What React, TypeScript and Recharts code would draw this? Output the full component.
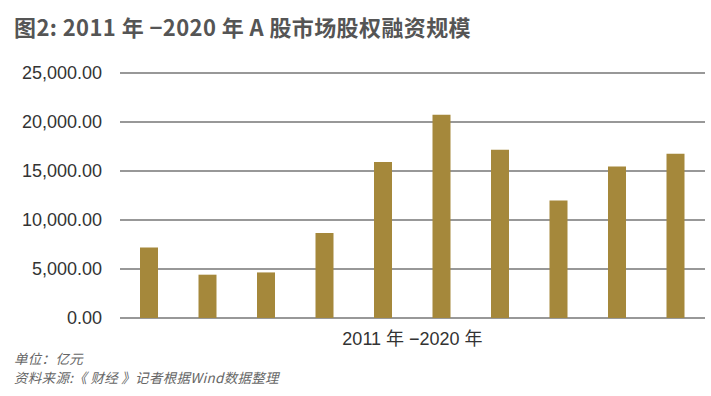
import { Bar, BarChart, CartesianGrid, XAxis, YAxis } from "recharts";

const years = ["2011", "2012", "2013", "2014", "2015", "2016", "2017", "2018", "2019", "2020"];
const financing = [7200, 4420, 4650, 8670, 15920, 20740, 17170, 12000, 15470, 16770];
const yTicks = [0, 5000, 10000, 15000, 20000, 25000];

const data = years.map((year, i) => ({ year, value: financing[i] }));

const fmt = (v: number) =>
  v.toLocaleString("en-US", { minimumFractionDigits: 2, maximumFractionDigits: 2 });

export default function App() {
  return (
    <div style={{ position: "absolute", left: 0, top: 0, width: 711, height: 396, background: "#fff" }}>
      <div
        style={{
          position: "absolute",
          left: 14,
          top: 10,
          fontFamily: "'Noto Sans CJK SC', sans-serif",
          fontWeight: 700,
          fontSize: 22,
          letterSpacing: 0.4,
          color: "#555",
          whiteSpace: "nowrap",
        }}
      >
        图2: 2011 年 −2020 年 A 股市场股权融资规模
      </div>
      <BarChart width={711} height={396} data={data} margin={{ top: 73, right: 6, bottom: 78, left: 0 }}>
        <CartesianGrid vertical={false} stroke="#333" strokeWidth={1.2} />
        <XAxis dataKey="year" hide />
        <YAxis
          width={120}
          domain={[0, 25000]}
          ticks={yTicks}
          tickFormatter={fmt}
          axisLine={false}
          tickLine={false}
          tickMargin={12}
          tick={{ fill: "#333", fontSize: 18, fontFamily: "'Liberation Sans', Arial, sans-serif" }}
        />
        <Bar dataKey="value" fill="#A5883B" barSize={18} isAnimationActive={false} />
      </BarChart>
      <div
        style={{
          position: "absolute",
          left: 0,
          width: 825,
          top: 324,
          textAlign: "center",
          fontFamily: "'Liberation Sans', 'Noto Sans CJK SC', sans-serif",
          fontSize: 18,
          color: "#333",
        }}
      >
        2011 年 −2020 年
      </div>
      <div
        style={{
          position: "absolute",
          left: 14,
          top: 349,
          fontFamily: "'Noto Sans CJK SC', sans-serif",
          fontStyle: "italic",
          fontSize: 13.5,
          letterSpacing: 0.3,
          lineHeight: "19px",
          color: "#666",
          whiteSpace: "nowrap",
        }}
      >
        <div>单位：亿元</div>
        <div>资料来源:《 财经 》记者根据Wind数据整理</div>
      </div>
    </div>
  );
}
